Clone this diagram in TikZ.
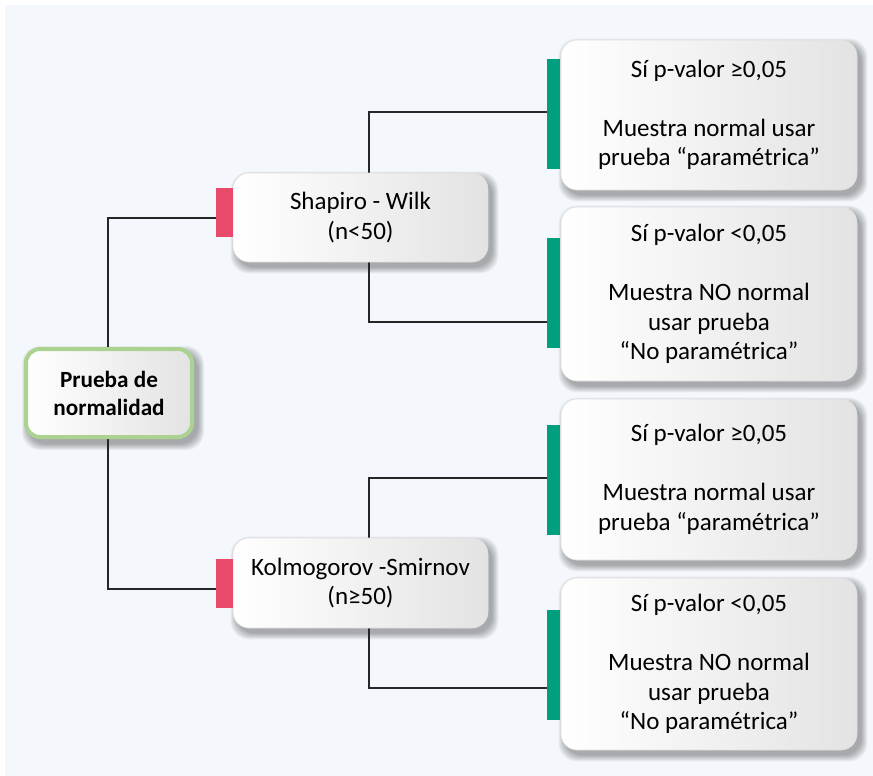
\documentclass[tikz,border=0pt]{standalone}
\usepackage{fontspec}
\setmainfont{Carlito}
\definecolor{pagebg}{RGB}{244,248,252}
\definecolor{rootedge}{RGB}{172,210,146}
\definecolor{pinkbar}{RGB}{233,74,107}
\definecolor{greenbar}{RGB}{0,160,126}
\definecolor{boxedge}{RGB}{222,222,222}
\pgfdeclarelayer{back}
\pgfdeclarelayer{shade}
\pgfdeclarelayer{wires}
\pgfsetlayers{back,shade,wires,main}
\tikzset{
  card/.style={rectangle, rounded corners=16pt, inner sep=0pt, align=center,
    draw=boxedge, line width=0.6pt, left color=white, right color=black!11},
  rootcard/.style={card, draw=rootedge, line width=4pt, rounded corners=14pt},
  pinktab/.style={rectangle, fill=pinkbar, inner sep=0pt, minimum width=17pt, minimum height=49pt},
  greentab/.style={rectangle, fill=greenbar, inner sep=0pt, minimum width=13pt, minimum height=110pt},
  wire/.style={draw=black!85, line width=1.3pt},
  big/.style={font=\fontsize{25}{29.5}\selectfont},
  softshade/.style={fill=black, opacity=0.05, rounded corners=18pt},
}
\begin{document}
\begin{tikzpicture}[x=1pt, y=-1pt]
\useasboundingbox (0,0) rectangle (873,776);
\begin{pgfonlayer}{back}
  \fill[pagebg] (5,5) rectangle (873,776);
\end{pgfonlayer}

% root
\node[rootcard, minimum width=166pt, minimum height=88pt,
      font=\fontsize{23.2}{28}\selectfont\bfseries] (root) at (109,393)
  {Prueba de\\normalidad};

% tests
\node[card, big, minimum width=255pt, minimum height=89pt] (shap) at (360.5,217.5)
  {Shapiro - Wilk\\(n<50)};
\node[card, big, minimum width=255pt, minimum height=90pt] (kolm) at (360.5,583)
  {Kolmogorov -Smirnov\\(n≥50)};
\node[pinktab] (pa) at (224.5,212) {};
\node[pinktab] (pb) at (224.5,583) {};

% outcomes
\node[card, big, minimum width=296pt, minimum height=150pt] (r1) at (709,115)
  {Sí p-valor ≥0,05\\[29.5pt]Muestra normal usar\\prueba “paramétrica”};
\node[card, big, minimum width=296pt, minimum height=174pt] (r2) at (709,294)
  {Sí p-valor <0,05\\[29.5pt]Muestra NO normal\\usar prueba\\“No paramétrica”};
\node[card, big, minimum width=296pt, minimum height=161pt] (r3) at (709,479.5)
  {Sí p-valor ≥0,05\\[29.5pt]Muestra normal usar\\prueba “paramétrica”};
\node[card, big, minimum width=296pt, minimum height=172pt] (r4) at (709,664)
  {Sí p-valor <0,05\\[29.5pt]Muestra NO normal\\usar prueba\\“No paramétrica”};
\node[greentab] (g1) at (553.5,114) {};
\node[greentab] (g2) at (553.5,293) {};
\node[greentab] (g3) at (553.5,479.5) {};
\node[greentab] (g4) at (553.5,664.5) {};

% soft drop shadows under the cards
\begin{pgfonlayer}{shade}
  \foreach \n in {root,shap,kolm,r1,r2,r3,r4}
    \foreach \s in {0,1,...,6}
      \fill[softshade] ([shift={(4-\s,5-\s)}]\n.north west)
                 rectangle ([shift={(4+\s,5+\s)}]\n.south east);
\end{pgfonlayer}

% connectors
\begin{pgfonlayer}{wires}
  \draw[wire] ([xshift=-1pt]root.north) |- ([yshift=-6pt]pa.west);
  \draw[wire] ([xshift=-1pt]root.south) |- ([yshift=-6pt]pb.west);
  \draw[wire] ([xshift=8.5pt]shap.north) |- ([yshift=2pt]g1.west);
  \draw[wire] ([xshift=8.5pt]shap.south) |- ([yshift=-29pt]g2.west);
  \draw[wire] ([xshift=8.5pt]kolm.north) |- ([yshift=1.5pt]g3.west);
  \draw[wire] ([xshift=8.5pt]kolm.south) |- ([yshift=-23.5pt]g4.west);
\end{pgfonlayer}
\end{tikzpicture}
\end{document}
